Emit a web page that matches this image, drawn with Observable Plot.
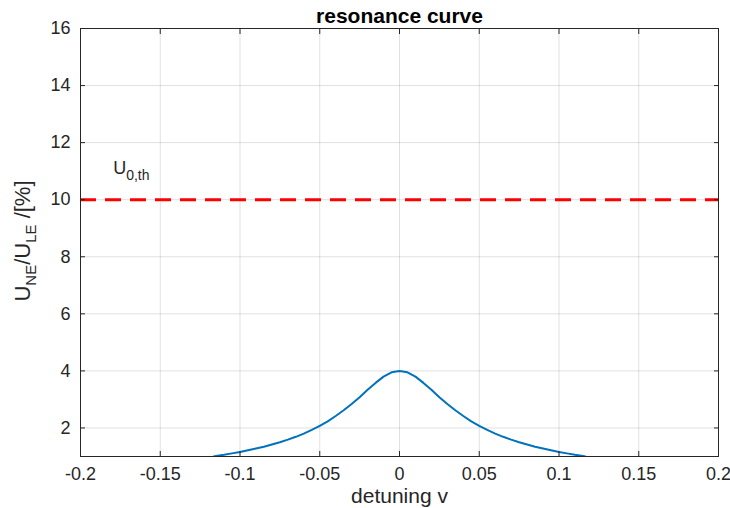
<!DOCTYPE html>
<html><head><meta charset="utf-8">
<script src="https://cdn.jsdelivr.net/npm/d3@7"></script>
<script src="https://cdn.jsdelivr.net/npm/@observablehq/plot@0.6"></script>
<style>body{margin:0;background:#fff} svg{display:block}</style>
</head><body><div id="chart"></div>
<script>
// curve: detuning v vs U_NE/U_LE [%]
const detuning = [-0.1165,-0.115,-0.11,-0.105,-0.1,-0.095,-0.09,-0.085,-0.08,-0.075,-0.07,-0.065,-0.06,-0.055,-0.05,-0.045,-0.04,-0.035,-0.03,-0.025,-0.02,-0.015,-0.01,-0.005,0,
  0.005,0.01,0.015,0.02,0.025,0.03,0.035,0.04,0.045,0.05,0.055,0.06,0.065,0.07,0.075,0.08,0.085,0.09,0.095,0.1,0.105,0.11,0.115,0.1165];
const ratio = [1.0,1.02,1.06,1.11,1.16,1.22,1.28,1.34,1.42,1.50,1.59,1.69,1.80,1.93,2.07,2.23,2.42,2.62,2.84,3.08,3.34,3.58,3.80,3.95,4.00,
  3.95,3.80,3.58,3.34,3.08,2.84,2.62,2.42,2.23,2.07,1.93,1.80,1.69,1.59,1.50,1.42,1.34,1.28,1.22,1.16,1.11,1.06,1.02,1.0];
const threshold = [10];
const thresholdLabelPos = [{x: -0.1795, y: 10.91}];
const thresholdMain = "U", thresholdSub = "0,th";
const xTicks = [-0.2,-0.15,-0.1,-0.05,0,0.05,0.1,0.15,0.2];
const yTicks = [2,4,6,8,10,12,14,16];
const titleText = "resonance curve";
const xLabel = "detuning v";
const yLabelParts = [["U",false],["NE",true],["/U",false],["LE",true],[" /[%]",false]];

const data = detuning.map((v, i) => ({v, r: ratio[i]}));
const font = "'Liberation Sans', Arial, Helvetica, sans-serif";
const ink = "#262626";
const fmt = d => String(+d.toFixed(2));

const chart = Plot.plot({
  width: 730, height: 508,
  marginLeft: 80, marginRight: 12, marginTop: 28, marginBottom: 52,
  style: {fontFamily: font, fontSize: "18px", color: ink, background: "#fff"},
  x: {domain: [-0.2, 0.2]},
  y: {domain: [1, 16]},
  marks: [
    Plot.gridX(xTicks, {stroke: "#000", strokeOpacity: 0.12}),
    Plot.gridY(yTicks, {stroke: "#000", strokeOpacity: 0.12}),
    Plot.ruleY(threshold, {stroke: "#ff0000", strokeWidth: 3, strokeDasharray: "16,9"}),
    Plot.line(data, {x: "v", y: "r", stroke: "#0072BD", strokeWidth: 2, clip: true}),
    Plot.frame({stroke: ink}),
    Plot.axisX(xTicks, {anchor: "bottom", tickSize: 0, tickPadding: 11, tickFormat: fmt, label: null, fill: ink}),
    Plot.axisY(yTicks, {anchor: "left", tickSize: 0, tickPadding: 10, label: null, fill: ink}),
    Plot.axisX(xTicks, {anchor: "bottom", tickSize: -5, tickFormat: () => "", label: null, stroke: ink}),
    Plot.axisX(xTicks, {anchor: "top", tickSize: -5, tickFormat: () => "", label: null, stroke: ink}),
    Plot.axisY(yTicks, {anchor: "left", tickSize: -5, tickFormat: () => "", label: null, stroke: ink}),
    Plot.axisY(yTicks, {anchor: "right", tickSize: -5, tickFormat: () => "", label: null, stroke: ink}),
    Plot.text(thresholdLabelPos, {x: "x", y: "y", text: () => thresholdMain, textAnchor: "start", lineAnchor: "bottom", fontSize: 18, fill: ink}),
    Plot.text(thresholdLabelPos, {x: "x", y: "y", text: () => thresholdSub, textAnchor: "start", lineAnchor: "bottom", dx: 13, dy: 6, fontSize: 14, fill: ink}),
    Plot.text([titleText], {frameAnchor: "top", dy: -20, text: d => d, fontSize: 21, fontWeight: "bold", fill: "#000"}),
    Plot.text([xLabel], {frameAnchor: "bottom", dy: 46, text: d => d, fontSize: 21, fill: ink})
  ]
});

const svg = d3.select(chart);
const yl = svg.append("text")
  .attr("transform", "translate(30,241) rotate(-90)")
  .attr("text-anchor", "middle")
  .attr("fill", ink)
  .attr("font-family", font)
  .attr("font-size", 22);
let shifted = false;
for (const [t, sub] of yLabelParts) {
  const ts = yl.append("tspan").text(t);
  if (sub && !shifted) { ts.attr("dy", 6).attr("font-size", 15); shifted = true; }
  else if (sub) { ts.attr("font-size", 15); }
  else if (shifted) { ts.attr("dy", -6); shifted = false; }
}
document.getElementById("chart").appendChild(chart);
</script>
</body></html>
